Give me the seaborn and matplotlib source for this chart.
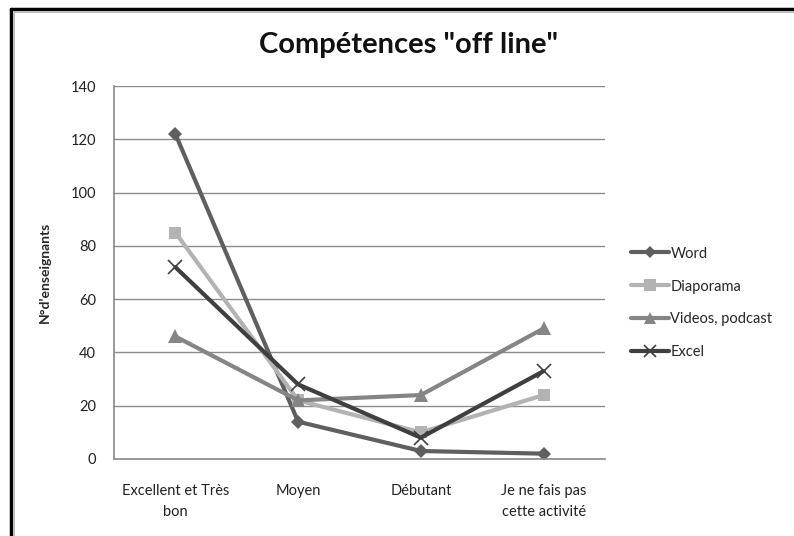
import matplotlib
matplotlib.use("Agg")
import matplotlib.pyplot as plt
from matplotlib.lines import Line2D
import seaborn as sns
import pandas as pd

categories = ["Excellent et Très\nbon", "Moyen", "Débutant", "Je ne fais pas\ncette activité"]
word = [122, 14, 3, 2]
diaporama = [85, 22, 10, 24]
videos = [46, 22, 24, 49]
excel = [72, 28, 8, 33]
series_names = ["Word", "Diaporama", "Videos, podcast", "Excel"]
y_ticks = [0, 20, 40, 60, 80, 100, 120, 140]

sns.set_theme(style="white")
plt.rcParams['font.family'] = ['Lato', 'DejaVu Sans']

rows = []
for name, vals in zip(series_names, [word, diaporama, videos, excel]):
    for i, v in enumerate(vals):
        rows.append({"cat": i, "val": v, "serie": name})
df = pd.DataFrame(rows)

palette = {"Word": "#5f5f5f", "Diaporama": "#b3b3b3", "Videos, podcast": "#858585", "Excel": "#3f3f3f"}
markers = {"Word": "D", "Diaporama": "s", "Videos, podcast": "^", "Excel": "x"}
msize = {"Word": 7, "Diaporama": 9, "Videos, podcast": 10, "Excel": 10}

fig = plt.figure(figsize=(7.94, 5.36), dpi=100)
ax = fig.add_axes([114/794, 1-459/536, (605-114)/794, (459-86)/536])

for name in series_names:
    sub = df[df.serie == name]
    sns.lineplot(data=sub, x="cat", y="val", ax=ax, color=palette[name], linewidth=3,
                 marker=markers[name], markersize=msize[name], markeredgecolor=palette[name],
                 markeredgewidth=1.2 if name == "Excel" else 0, label=name, legend=False)

ax.set_xlim(-0.5, 3.5)
ax.set_ylim(0, 140)
ax.set_yticks(y_ticks)
ax.set_yticklabels([str(t) for t in y_ticks], fontsize=10.5, color="#222222")
ax.set_xticks(range(4))
ax.set_xticklabels(categories, fontsize=10.5, color="#222222", linespacing=1.6)
ax.tick_params(axis="x", length=0, pad=18)
ax.tick_params(axis="y", length=0, pad=13)
ax.grid(axis="y", color="#8c8c8c", linewidth=1)
ax.set_axisbelow(True)
for s in ["top", "right"]:
    ax.spines[s].set_visible(False)
ax.spines["left"].set_color("#8c8c8c")
ax.spines["bottom"].set_color("#8c8c8c")
ax.set_xlabel("")
ax.set_ylabel("N°d'enseignants", fontsize=10, fontweight="bold", labelpad=16)
ax.yaxis.set_label_coords(-63/491, 0.5)

fig.text(0.5 + 0.015, 1 - 45/536, 'Compétences "off line"', ha="center", va="center",
         fontsize=21, fontweight="bold", color="#111111")

handles = []
for name in series_names:
    handles.append(Line2D([], [], color=palette[name], linewidth=3, marker=markers[name],
                          markersize=msize[name] - 1, markeredgecolor=palette[name],
                          markeredgewidth=1.2 if name == "Excel" else 0))
leg = fig.legend(handles, series_names, loc="center left", bbox_to_anchor=(618/794, 1 - 303/536),
                 frameon=False, fontsize=10.5, handlelength=2.6, handletextpad=0.1, labelspacing=1.3)

# outer frame
fig.add_artist(Line2D([11/794, 11/794], [0, 1 - 9/536], color="black", linewidth=2.5, transform=fig.transFigure))
fig.add_artist(Line2D([11/794, 1], [1 - 9/536, 1 - 9/536], color="black", linewidth=2.5, transform=fig.transFigure))
fig.add_artist(Line2D([13.5/794, 13.5/794], [0, 1 - 11.5/536], color="#bdbdbd", linewidth=1.5, transform=fig.transFigure))
fig.add_artist(Line2D([13.5/794, 1], [1 - 11.5/536, 1 - 11.5/536], color="#bdbdbd", linewidth=1.5, transform=fig.transFigure))

fig.savefig("out.png", dpi=100)
